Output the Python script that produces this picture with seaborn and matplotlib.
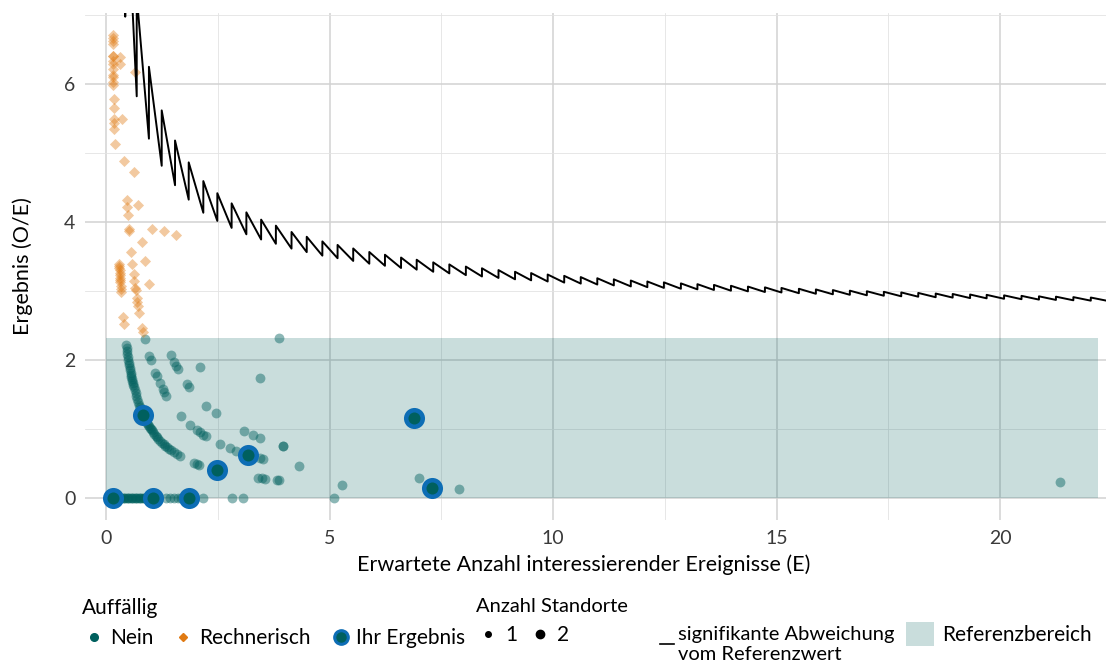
import numpy as np
import pandas as pd
import matplotlib
matplotlib.use("Agg")
import matplotlib.pyplot as plt
import seaborn as sns
from matplotlib.lines import Line2D
from matplotlib.patches import Patch
from matplotlib.ticker import MultipleLocator

# Grenzlinie: Sprungstellen (E) und beobachtete Anzahl O vor dem Sprung
grenze_E = [0.40, 0.43, 0.687, 0.96, 1.246, 1.544, 1.85, 2.177, 2.49, 2.81, 3.14, 3.47,
            3.80, 4.15, 4.49, 4.84, 5.18, 5.53, 5.89, 6.24, 6.60, 6.95, 7.32, 7.68,
            8.05, 8.41, 8.78, 9.15, 9.51, 9.88, 10.25, 10.62, 10.99, 11.36, 11.74,
            12.11, 12.48, 12.86, 13.23, 13.60, 13.98, 14.36, 14.74, 15.11, 15.50,
            15.88, 16.26, 16.64, 17.02, 17.40, 17.79, 18.17, 18.56, 18.94, 19.33,
            19.70, 20.09, 20.48, 20.87, 21.25, 21.64, 22.03]
grenze_O = [3] + list(range(3, 64))
grenze_E_ende = 22.40
grenze_O_ende = 64

# Auffällig: Nein
nein_E = ([0.15, 0.17, 0.19, 0.21, 0.23, 0.25, 0.27, 0.29, 0.31, 0.34, 0.37, 0.40, 0.43,
           0.46, 0.49, 0.52, 0.55, 0.58, 0.61, 0.64, 0.67, 0.70, 0.73, 0.76, 0.79, 0.82,
           0.85, 0.88, 0.91, 0.94, 0.97, 1.00, 1.04, 1.34, 1.43, 1.52, 1.60, 1.67, 1.75,
           1.86, 2.16, 2.81, 3.06, 5.10]
          + [0.45, 0.46, 0.47, 0.48, 0.49, 0.50, 0.51, 0.52, 0.53, 0.54, 0.55, 0.56, 0.57,
             0.58, 0.59, 0.60, 0.61, 0.62, 0.64, 0.66, 0.68, 0.70, 0.72, 0.74, 0.76, 0.78,
             0.80, 0.86, 0.88, 0.90, 0.92, 0.94, 0.96, 0.98, 1.00, 1.02, 1.05, 1.08, 1.11,
             1.14, 1.17, 1.21, 1.25, 1.29, 1.32, 1.36, 1.40, 1.45, 1.51, 1.58, 1.66, 1.97,
             2.03, 2.07, 3.39, 3.48, 3.56, 3.82, 3.87, 5.27, 7.90]
          + [0.87, 0.97, 1.00, 1.10, 1.13, 1.20, 1.27, 1.30, 1.35, 1.68, 1.88, 2.04, 2.10,
             2.18, 2.23, 2.55, 2.77, 2.91, 3.45, 3.52, 4.31, 7.01]
          + [1.45, 1.52, 1.57, 1.60, 1.82, 1.86, 2.24, 2.45, 3.09, 3.28, 3.45, 3.95, 3.95]
          + [2.10, 21.34, 3.45, 3.87])
nein_O = [0] * 44 + [1] * 61 + [2] * 22 + [3] * 13 + [4, 5, 6, 9]

# Auffällig: Rechnerisch
rech_E = ([0.149, 0.150, 0.151, 0.152, 0.156, 0.156, 0.158, 0.159, 0.161, 0.163, 0.164,
           0.166, 0.167, 0.173, 0.177, 0.182, 0.184, 0.187, 0.195, 0.295, 0.298, 0.300,
           0.303, 0.306, 0.310, 0.313, 0.316, 0.320, 0.325, 0.330, 0.335, 0.382, 0.397]
          + [0.313, 0.318, 0.364, 0.410, 0.463, 0.474, 0.488, 0.513, 0.517, 0.560, 0.590,
             0.615, 0.637, 0.656, 0.662, 0.690, 0.704, 0.717, 0.746, 0.810, 0.833]
          + [0.634, 0.706, 0.810, 0.875, 0.968]
          + [0.648, 1.026, 1.29, 1.575])
rech_O = [1] * 33 + [2] * 21 + [3] * 5 + [4, 4, 5, 6]

# Ihr Ergebnis
ihr_E = [0.15, 1.04, 1.86, 0.835, 2.49, 3.18, 6.88, 7.29]
ihr_O = [0, 0, 0, 1, 1, 2, 8, 1]

ref_oben = 2.32
ref_E_max = 22.2

teal = "#00605e"
orange = "#e07a12"
blau = "#0d6db5"

plt.rcParams["font.family"] = ["Lato", "DejaVu Sans"]

nein = pd.DataFrame({"E": nein_E, "O": nein_O})
nein["OE"] = nein["O"] / nein["E"]
rech = pd.DataFrame({"E": rech_E, "O": rech_O})
rech["OE"] = rech["O"] / rech["E"]
ihr = pd.DataFrame({"E": ihr_E, "O": ihr_O})
ihr["OE"] = ihr["O"] / ihr["E"]

# Sägezahnlinie aus den Sprungstellen
lx, ly = [], []
for e, o in zip(grenze_E, grenze_O):
    lx += [e, e]
    ly += [o / e, (o + 1) / e]
lx.append(grenze_E_ende)
ly.append(grenze_O_ende / grenze_E_ende)
linie = pd.DataFrame({"E": lx[1:], "OE": ly[1:]})
linie = pd.concat([pd.DataFrame({"E": [grenze_E[0]], "OE": [grenze_O[0] / grenze_E[0]]}), linie])

fig = plt.figure(figsize=(11.06, 6.69), dpi=100)
ax = fig.add_axes([85 / 1106, 1 - 520 / 669, 1021 / 1106, 507 / 669])

ax.set_xlim(-0.47, 22.37)
ax.set_ylim(-0.32, 7.03)
ax.xaxis.set_major_locator(MultipleLocator(5))
ax.xaxis.set_minor_locator(MultipleLocator(2.5))
ax.yaxis.set_major_locator(MultipleLocator(2))
ax.yaxis.set_minor_locator(MultipleLocator(1))
ax.grid(which="major", color="#d2d2d2", lw=1.1)
ax.grid(which="minor", color="#e3e3e3", lw=0.6)
ax.set_axisbelow(True)
for s in ax.spines.values():
    s.set_visible(False)
ax.tick_params(which="both", length=0, labelsize=14, colors="#3a3a3a", pad=7)

ax.fill_between([0, ref_E_max], 0, ref_oben, color=teal, alpha=0.21, lw=0, zorder=1)

sns.scatterplot(data=nein, x="E", y="OE", color=teal, alpha=0.45, s=50, linewidth=0,
                ax=ax, zorder=3, legend=False)
sns.scatterplot(data=rech, x="E", y="OE", color=orange, alpha=0.4, s=32, marker="D",
                linewidth=0, ax=ax, zorder=3, legend=False)
sns.scatterplot(data=ihr, x="E", y="OE", color=blau, s=230, linewidth=0, ax=ax,
                zorder=4, legend=False)
sns.scatterplot(data=ihr, x="E", y="OE", color=teal, s=75, linewidth=0, ax=ax,
                zorder=5, legend=False)
sns.lineplot(data=linie, x="E", y="OE", sort=False, estimator=None, color="black",
             lw=1.4, ax=ax, zorder=6)

ax.set_xlabel("Erwartete Anzahl interessierender Ereignisse (E)", fontsize=15.5, labelpad=6)
ax.xaxis.set_label_coords(0.488, -0.067)
ax.set_ylabel("Ergebnis (O/E)", fontsize=15.5, labelpad=22)

# Legenden
fs = 15
h_nein = Line2D([], [], marker="o", ls="", color=teal, markersize=5.5)
h_rech = Line2D([], [], marker="D", ls="", color=orange, markersize=4.5)
h_ihr = (Line2D([], [], marker="o", ls="", color=blau, markersize=11),
         Line2D([], [], marker="o", ls="", color=teal, markersize=6.5))
leg1 = fig.legend([h_nein, h_rech, h_ihr], ["Nein", "Rechnerisch", "Ihr Ergebnis"],
                  title="Auffällig", ncol=3, loc="upper left",
                  bbox_to_anchor=(63 / 1106, 1 - 579 / 669), frameon=False,
                  fontsize=fs, title_fontsize=fs, handletextpad=0.15,
                  columnspacing=0.85, handlelength=1.2, alignment="left")

h1 = Line2D([], [], marker="o", ls="", color="black", markersize=4)
h2 = Line2D([], [], marker="o", ls="", color="black", markersize=6)
leg2 = fig.legend([h1, h2], ["1", "2"], title="Anzahl Standorte", ncol=2, loc="upper left",
                  bbox_to_anchor=(457 / 1106, 1 - 579 / 669), frameon=False,
                  fontsize=fs, title_fontsize=14.5, handletextpad=0.2,
                  columnspacing=0.5, handlelength=1.2, alignment="left")

h_lin = Line2D([], [], color="black", lw=1.2)
leg3 = fig.legend([h_lin], ["signifikante Abweichung\nvom Referenzwert"], loc="upper left",
                  bbox_to_anchor=(642 / 1106, 1 - 608 / 669), frameon=False,
                  fontsize=14.5, handletextpad=0.2, handlelength=0.7, labelspacing=0.1)

h_ref = Patch(facecolor=teal, alpha=0.21, lw=0)
leg4 = fig.legend([h_ref], ["Referenzbereich"], loc="upper left",
                  bbox_to_anchor=(887 / 1106, 1 - 603 / 669), frameon=False,
                  fontsize=fs, handletextpad=0.4, handlelength=1.35, handleheight=1.45)

fig.savefig("out.png", dpi=100)
